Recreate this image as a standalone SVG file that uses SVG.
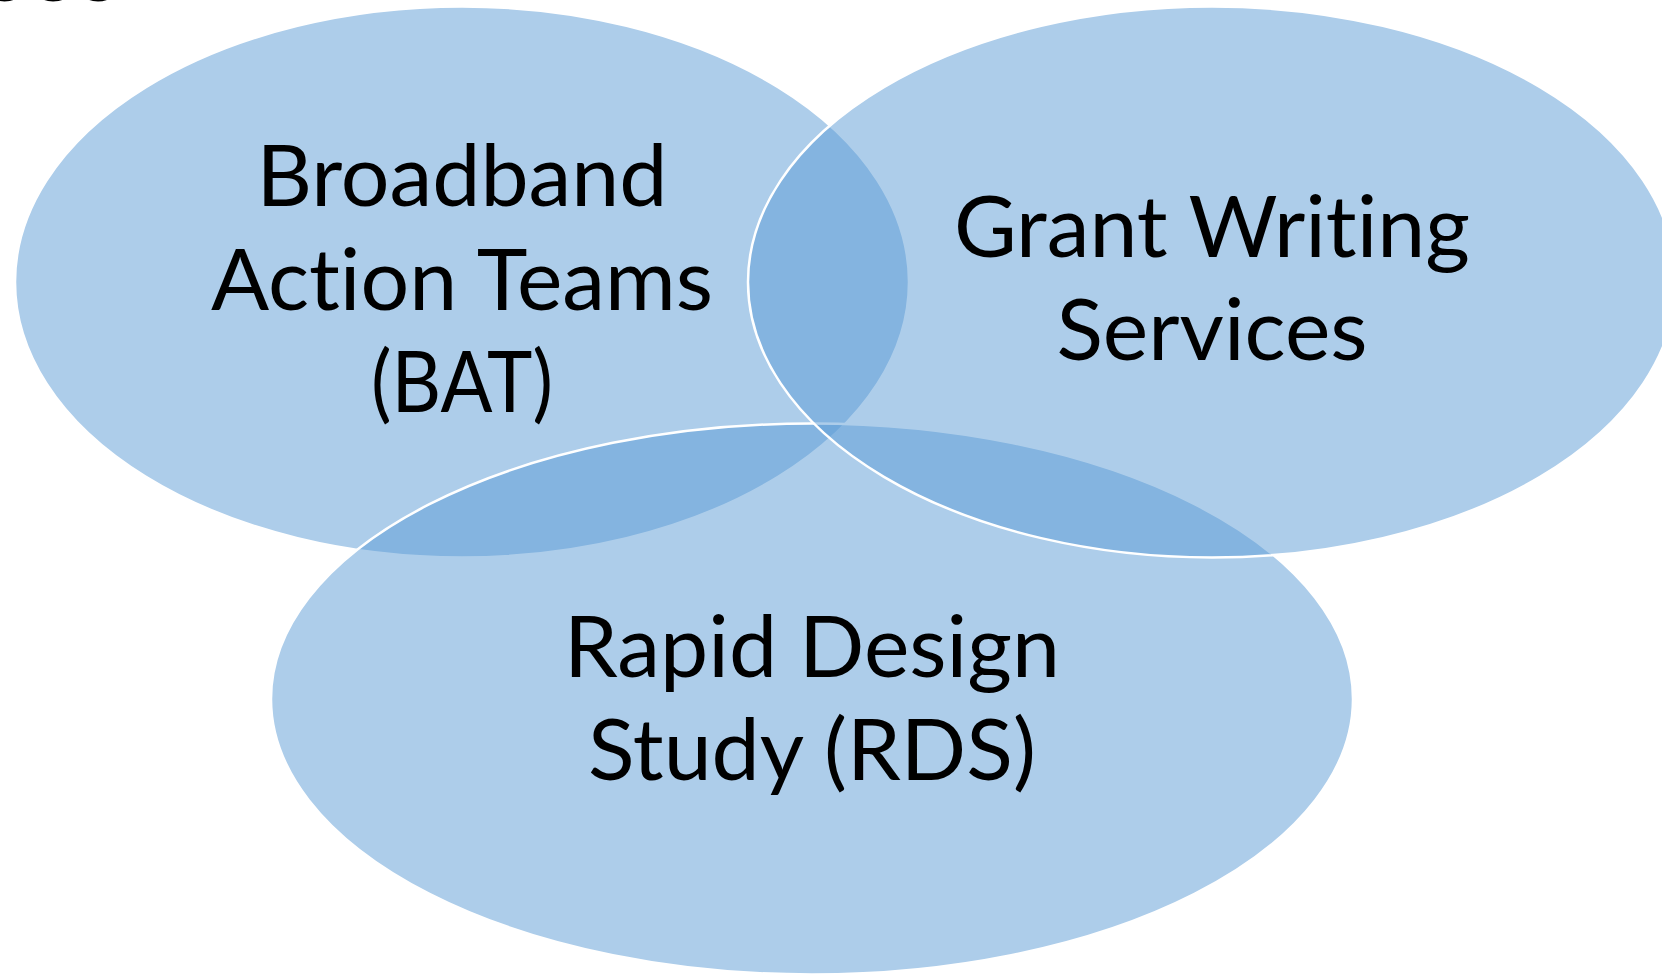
<svg xmlns="http://www.w3.org/2000/svg" width="1662" height="975" viewBox="0 0 1662 975">
  <style>
    .circle { fill: #5B9BD5; fill-opacity: 0.5; stroke: #FFFFFF; stroke-width: 2.5; }
    .label { font-family: Lato, "Liberation Sans", sans-serif; font-size: 86px; fill: #000000; text-anchor: middle; font-variant-ligatures: none; font-feature-settings: "liga" 0, "clig" 0; }
    .title { font-family: Lato, "Liberation Sans", sans-serif; font-size: 100px; fill: #000000; }
  </style>
  <rect x="0" y="0" width="1662" height="975" fill="#FFFFFF"/>
  <text class="title" x="-22" y="1">ces</text>
  <g id="node-bat">
    <ellipse class="circle" cx="462" cy="282" rx="447" ry="275.5"/>
  </g>
  <g id="node-rds">
    <ellipse class="circle" cx="812" cy="699" rx="541" ry="275.5"/>
  </g>
  <g id="node-grant">
    <ellipse class="circle" cx="1212" cy="282" rx="464" ry="275.5"/>
  </g>
  <g id="connectors"></g>
  <g id="labels">
    <text class="label" x="462" y="206">Broadband</text>
    <text class="label" x="462" y="310">Action Teams</text>
    <text class="label" x="462" y="412" textLength="182" lengthAdjust="spacingAndGlyphs">(BAT)</text>
    <text class="label" x="1212" y="257">Grant Writing</text>
    <text class="label" x="1212" y="360">Services</text>
    <text class="label" x="812" y="677">Rapid Design</text>
    <text class="label" x="812" y="780">Study (RDS)</text>
  </g>
</svg>
